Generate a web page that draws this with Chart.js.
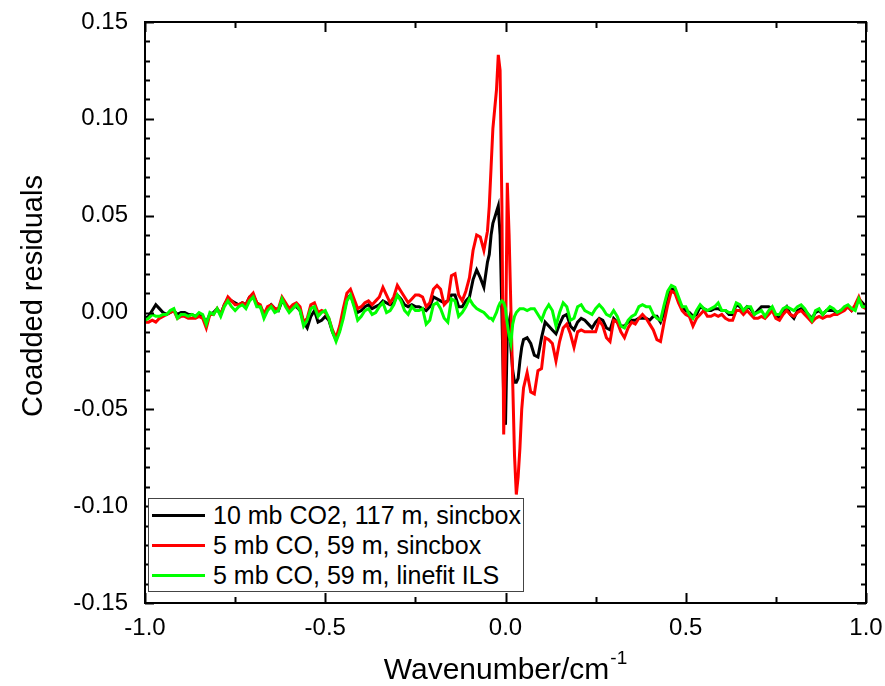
<!DOCTYPE html>
<html>
<head>
<meta charset="utf-8">
<script src="https://cdn.jsdelivr.net/npm/chart.js@4.4.1/dist/chart.umd.min.js"></script>
<style>
  html, body { margin: 0; padding: 0; background: #fff; }
  #wrap { position: relative; width: 885px; height: 686px; }
  #legend {
    position: absolute; left: 148px; top: 498px; width: 376px; height: 94px;
    border: 1px solid #444; background: #fff; box-sizing: border-box;
    font-family: "Liberation Sans", Arial, sans-serif; font-size: 25px; color: #000;
    padding-top: 1px;
  }
  .row { height: 30px; line-height: 30px; white-space: nowrap; display: flex; align-items: center; }
  .swatch { display: inline-block; width: 53px; height: 3px; margin-left: 3px; margin-right: 8px; }
</style>
</head>
<body>
<div id="wrap">
  <canvas id="c" width="885" height="686"></canvas>
  <div id="legend"></div>
</div>
<script>
// ---- data ----
const wavenumber = [
  -1.00,-0.99,-0.98,-0.97,-0.96,-0.95,-0.94,-0.93,-0.92,-0.91,
  -0.90,-0.89,-0.88,-0.87,-0.86,-0.85,-0.84,-0.83,-0.82,-0.81,
  -0.80,-0.79,-0.78,-0.77,-0.76,-0.75,-0.74,-0.73,-0.72,-0.71,
  -0.70,-0.69,-0.68,-0.67,-0.66,-0.65,-0.64,-0.63,-0.62,-0.61,
  -0.60,-0.59,-0.58,-0.57,-0.56,-0.55,-0.54,-0.53,-0.52,-0.51,
  -0.50,-0.49,-0.48,-0.47,-0.46,-0.45,-0.44,-0.43,-0.42,-0.41,
  -0.40,-0.39,-0.38,-0.37,-0.36,-0.35,-0.34,-0.33,-0.32,-0.31,
  -0.30,-0.29,-0.28,-0.27,-0.26,-0.25,-0.24,-0.23,-0.22,-0.21,
  -0.20,-0.19,-0.18,-0.17,-0.16,-0.15,-0.14,-0.13,-0.12,-0.11,
  -0.10,-0.09,-0.08,-0.07,-0.06,-0.05,
  -0.045,-0.040,-0.035,-0.030,-0.025,-0.020,-0.015,-0.010,-0.005,0.000,
  0.005,0.010,0.015,0.020,0.025,0.030,0.035,0.040,0.045,
  0.05,0.06,0.07,0.08,0.09,
  0.10,0.11,0.12,0.13,0.14,0.15,0.16,0.17,0.18,0.19,
  0.20,0.21,0.22,0.23,0.24,0.25,0.26,0.27,0.28,0.29,
  0.30,0.31,0.32,0.33,0.34,0.35,0.36,0.37,0.38,0.39,
  0.40,0.41,0.42,0.43,0.44,0.45,0.46,0.47,0.48,0.49,
  0.50,0.51,0.52,0.53,0.54,0.55,0.56,0.57,0.58,0.59,
  0.60,0.61,0.62,0.63,0.64,0.65,0.66,0.67,0.68,0.69,
  0.70,0.71,0.72,0.73,0.74,0.75,0.76,0.77,0.78,0.79,
  0.80,0.81,0.82,0.83,0.84,0.85,0.86,0.87,0.88,0.89,
  0.90,0.91,0.92,0.93,0.94,0.95,0.96,0.97,0.98,0.99,
  1.00
];

const co2Sincbox = [
  -0.003,-0.002,0.001,0.004,0.002,0.000,-0.001,0.000,0.001,-0.001,
  0.000,0.000,-0.001,-0.001,-0.002,-0.001,-0.002,-0.005,-0.001,0.000,
  0.002,-0.001,0.004,0.007,0.006,0.005,0.004,0.005,0.004,0.008,
  0.009,0.005,0.003,-0.001,0.002,0.004,0.002,0.001,0.006,0.004,
  0.001,0.003,0.003,0.001,-0.005,-0.008,-0.002,0.001,-0.005,-0.004,
  -0.002,-0.004,-0.010,-0.014,-0.009,-0.001,0.007,0.009,0.004,0.000,
  0.001,0.003,0.004,0.002,0.003,
  0.004,0.006,0.005,0.004,0.005,0.009,0.007,0.004,0.003,0.004,0.003,0.003,0.002,0.001,0.003,0.008,
  0.007,0.006,0.005,0.006,0.009,0.009,0.003,0.003,0.006,0.008,0.017,0.022,0.018,0.013,0.026,
  0.030,0.040,0.046,0.049,0.052,0.055,0.040,0.000,-0.045,-0.058,
  -0.010,-0.005,-0.018,-0.030,-0.036,-0.036,-0.034,-0.025,-0.018,
  -0.014,-0.013,-0.016,-0.022,-0.023,-0.013,-0.005,-0.007,-0.009,-0.011,-0.006,-0.002,-0.001,-0.007,-0.009,-0.005,-0.003,-0.004,-0.006,-0.008,-0.005,-0.003,
  -0.004,-0.008,-0.009,-0.003,-0.005,-0.007,-0.007,-0.005,-0.004,-0.004,
  -0.003,-0.003,-0.003,-0.004,-0.002,-0.002,-0.005,0.000,0.008,0.012,
  0.012,0.006,0.003,0.001,0.000,-0.002,-0.001,0.003,0.002,0.001,
  0.001,0.002,0.002,
  0.001,0.001,-0.001,-0.001,0.004,0.003,0.001,0.003,0.002,-0.001,
  0.001,0.003,0.003,0.003,0.002,-0.002,-0.003,0.001,0.003,-0.001,
  -0.003,0.001,0.002,0.001,-0.001,-0.003,0.000,0.001,-0.001,0.001,
  0.001,0.001,0.000,0.001,0.002,0.003,0.001,0.003,0.007,0.005,
  0.003
];

const coSincbox = [
  -0.005,-0.005,-0.004,-0.005,-0.003,-0.002,-0.001,0.000,0.001,-0.003,
  -0.002,-0.002,-0.003,-0.003,-0.003,-0.002,-0.003,-0.008,-0.001,-0.001,
  0.002,-0.001,0.004,0.008,0.006,0.004,0.004,0.005,0.004,0.008,
  0.010,0.005,0.004,-0.001,0.003,0.004,0.002,0.002,0.008,0.005,
  0.002,0.004,0.005,0.003,-0.005,-0.003,0.004,0.005,0.000,0.001,
  0.000,-0.003,-0.009,-0.013,-0.007,0.002,0.010,0.012,0.007,0.002,
  0.003,0.005,0.006,0.004,0.006,
  0.008,0.013,0.009,0.005,0.008,0.014,0.011,0.008,0.005,0.007,0.009,0.009,0.008,0.003,0.005,0.012,
  0.014,0.012,0.004,0.006,0.019,0.020,0.009,0.006,0.011,0.018,0.032,0.040,0.039,0.032,0.042,
  0.055,0.075,0.095,0.105,0.115,0.133,0.125,0.055,-0.063,-0.020,
  0.067,0.040,0.002,-0.036,-0.074,-0.094,-0.085,-0.070,-0.050,
  -0.039,-0.031,-0.041,-0.042,-0.030,-0.029,-0.013,-0.014,-0.016,-0.025,-0.015,-0.008,-0.006,-0.011,-0.018,-0.010,-0.009,-0.010,-0.010,-0.010,-0.010,-0.004,
  -0.007,-0.013,-0.015,-0.004,-0.005,-0.010,-0.013,-0.008,-0.005,-0.006,
  -0.003,-0.001,-0.003,-0.006,-0.009,-0.014,-0.015,-0.005,0.004,0.011,
  0.010,0.005,0.001,-0.001,-0.002,-0.007,-0.003,-0.001,0.001,-0.002,
  -0.002,-0.001,-0.002,
  -0.001,-0.003,-0.004,-0.004,0.001,0.001,-0.001,0.001,-0.001,-0.003,
  -0.003,-0.002,-0.003,-0.001,0.001,-0.003,-0.004,-0.001,0.001,-0.001,
  -0.002,0.000,0.001,-0.001,-0.003,-0.005,-0.003,-0.002,-0.003,-0.002,
  -0.002,-0.001,-0.001,0.000,0.001,0.003,0.001,0.004,0.008,0.003,
  0.002
];

const coLinefit = [
  -0.004,-0.003,-0.001,-0.002,-0.002,-0.001,-0.001,0.001,0.002,-0.003,
  -0.001,-0.001,-0.002,-0.001,-0.002,0.000,-0.001,-0.006,0.000,-0.001,
  0.002,-0.002,0.003,0.006,0.003,0.001,0.003,0.004,0.002,0.006,
  0.008,0.003,0.003,-0.003,0.001,0.003,0.000,0.001,0.007,0.003,
  0.000,0.002,0.004,0.001,-0.007,-0.004,0.002,0.003,-0.002,0.000,
  0.001,-0.003,-0.010,-0.015,-0.010,-0.003,0.006,0.009,0.003,-0.004,
  -0.002,0.001,0.002,-0.001,0.000,
  0.003,0.005,0.000,0.001,0.004,0.009,0.006,0.001,-0.001,0.003,0.001,0.001,0.002,-0.006,-0.004,0.004,
  0.005,0.002,-0.003,-0.005,0.007,0.006,-0.002,0.000,0.003,0.007,0.004,0.002,0.001,0.000,-0.002,
  -0.003,-0.003,-0.004,-0.002,0.000,0.003,0.005,0.006,0.005,0.002,
  -0.006,-0.012,-0.016,-0.006,-0.002,0.000,0.001,0.002,0.002,
  0.002,0.001,0.002,0.002,-0.001,-0.004,0.001,0.004,0.001,-0.007,0.000,0.005,0.003,-0.004,-0.003,0.003,0.004,0.001,0.000,-0.001,0.002,0.004,
  0.002,-0.001,-0.002,0.001,-0.002,-0.007,-0.008,-0.004,-0.002,-0.001,
  0.003,0.004,0.003,0.003,-0.001,-0.003,-0.004,0.004,0.011,0.014,
  0.013,0.008,0.003,0.003,-0.001,-0.003,0.001,0.004,0.002,0.001,
  0.002,0.003,0.005,
  0.001,0.001,0.000,0.000,0.005,0.004,0.001,0.003,0.003,-0.001,
  0.000,0.001,-0.002,0.001,0.003,-0.001,-0.001,0.002,0.003,0.002,
  0.001,0.003,0.004,0.002,-0.001,-0.004,0.001,0.002,-0.001,0.001,
  0.003,0.002,0.000,0.001,0.003,0.004,0.002,0.001,0.007,0.003,
  0.003
];

const seriesNames = ['10 mb CO2, 117 m, sincbox', '5 mb CO, 59 m, sincbox', '5 mb CO, 59 m, linefit ILS'];
const seriesColors = ['#000000', '#ff0000', '#00ff00'];
const yTickValues = [-0.15, -0.10, -0.05, 0.00, 0.05, 0.10, 0.15];
const xTickValues = [-1.0, -0.5, 0.0, 0.5, 1.0];
const yAxisTitle = 'Coadded residuals';
const xAxisTitle = 'Wavenumber/cm';
const xAxisTitleSup = '-1';

// ---- chart ----
const FONT = '"Liberation Sans", Arial, sans-serif';
const toPts = ys => wavenumber.map((x, i) => ({ x: x, y: ys[i] }));
const seriesData = [co2Sincbox, coSincbox, coLinefit];

const framePlugin = {
  id: 'frame',
  afterDatasetsDraw(chart) {
    const { ctx, chartArea: a, scales: { x, y } } = chart;
    ctx.save();
    ctx.strokeStyle = '#000';
    ctx.lineWidth = 2;
    ctx.lineCap = 'butt';
    ctx.beginPath();
    for (let i = -15; i <= 15; i++) {
      const py = Math.round(y.getPixelForValue(i / 100)) + 0.5;
      const len = (i % 5 === 0) ? 9 : 5;
      ctx.moveTo(a.left, py); ctx.lineTo(a.left + len, py);
      ctx.moveTo(a.right, py); ctx.lineTo(a.right - len, py);
    }
    for (let i = -4; i <= 4; i++) {
      const px = Math.round(x.getPixelForValue(i / 4)) + 0.5;
      const len = (i % 2 === 0) ? 10 : 6;
      ctx.moveTo(px, a.bottom); ctx.lineTo(px, a.bottom - len);
      ctx.moveTo(px, a.top); ctx.lineTo(px, a.top + len);
    }
    ctx.stroke();
    ctx.strokeRect(a.left, a.top, a.right - a.left, a.bottom - a.top);
    ctx.restore();
  },
  afterDraw(chart) {
    const { ctx, chartArea: a } = chart;
    ctx.save();
    ctx.fillStyle = '#000';
    ctx.save();
    ctx.translate(42, 296);
    ctx.rotate(-Math.PI / 2);
    ctx.font = '29px ' + FONT;
    ctx.textAlign = 'center';
    ctx.textBaseline = 'alphabetic';
    ctx.fillText(yAxisTitle, 0, 0);
    ctx.restore();
    ctx.font = '30px ' + FONT;
    ctx.textBaseline = 'alphabetic';
    ctx.textAlign = 'left';
    const w1 = ctx.measureText(xAxisTitle).width;
    ctx.font = '19px ' + FONT;
    const w2 = ctx.measureText(xAxisTitleSup).width;
    const cx = (a.left + a.right) / 2;
    const x0 = cx - (w1 + w2 + 1) / 2;
    ctx.font = '30px ' + FONT;
    ctx.fillText(xAxisTitle, x0, 679);
    ctx.font = '19px ' + FONT;
    ctx.fillText(xAxisTitleSup, x0 + w1 + 1, 664);
    ctx.restore();
  }
};

new Chart(document.getElementById('c'), {
  type: 'line',
  data: {
    datasets: seriesData.map((ys, i) => ({
      label: seriesNames[i],
      data: toPts(ys),
      borderColor: seriesColors[i],
      backgroundColor: seriesColors[i],
      borderWidth: 3,
      pointRadius: 0,
      tension: 0,
      fill: false,
      order: 3 - i
    }))
  },
  options: {
    responsive: false,
    animation: false,
    layout: { autoPadding: false, padding: { left: 0, right: 19, top: 22, bottom: 0 } },
    plugins: { legend: { display: false }, tooltip: { enabled: false } },
    scales: {
      x: {
        type: 'linear', min: -1, max: 1,
        grid: { display: false, drawTicks: false },
        border: { display: false },
        afterBuildTicks: s => { s.ticks = xTickValues.map(v => ({ value: v })); },
        afterFit: s => { s.height = 83; s.paddingLeft = 0; s.paddingRight = 0; },
        ticks: {
          padding: 11, color: '#000', font: { family: FONT, size: 24 },
          maxRotation: 0, autoSkip: false,
          callback: v => Number(v).toFixed(1)
        },
        title: { display: false, text: 'Wavenumber/cm-1' }
      },
      y: {
        type: 'linear', min: -0.15, max: 0.15,
        grid: { display: false, drawTicks: false },
        border: { display: false },
        afterBuildTicks: s => { s.ticks = yTickValues.map(v => ({ value: v })); },
        afterFit: s => { s.width = 145; s.paddingTop = 0; s.paddingBottom = 0; },
        ticks: {
          padding: 17, color: '#000', font: { family: FONT, size: 24 },
          autoSkip: false,
          callback: v => Number(v).toFixed(2)
        },
        title: { display: false, text: 'Coadded residuals' }
      }
    }
  },
  plugins: [framePlugin]
});

// HTML legend
const leg = document.getElementById('legend');
seriesNames.forEach((name, i) => {
  const row = document.createElement('div');
  row.className = 'row';
  const sw = document.createElement('span');
  sw.className = 'swatch';
  sw.style.background = seriesColors[i];
  const tx = document.createElement('span');
  tx.textContent = name;
  row.appendChild(sw); row.appendChild(tx);
  leg.appendChild(row);
});
</script>
</body>
</html>
